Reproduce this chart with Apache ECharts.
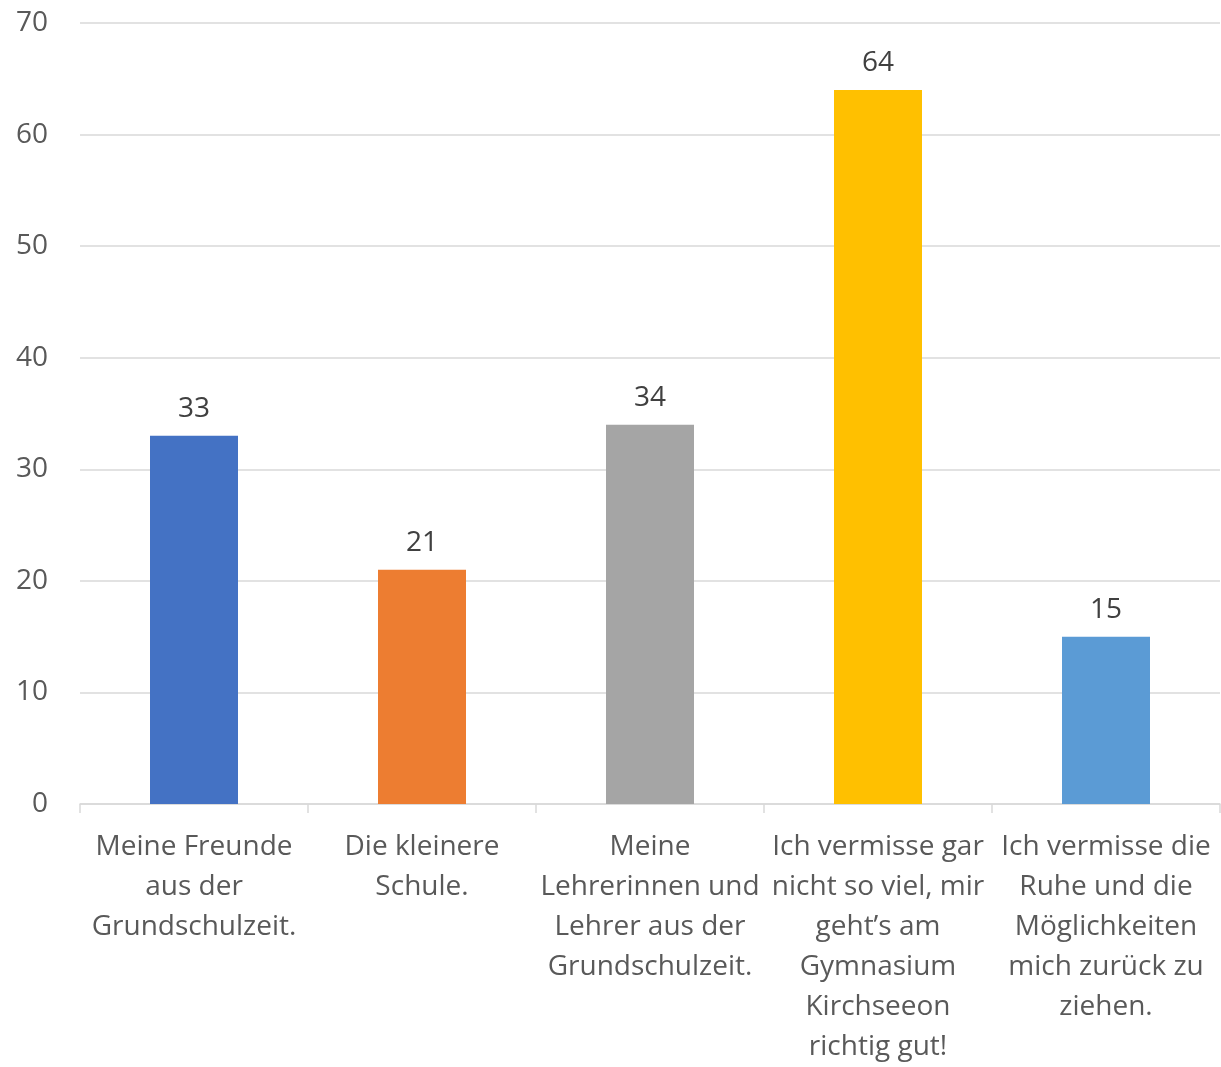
<!DOCTYPE html>
<html>
<head>
<meta charset="utf-8">
<script src="https://cdn.jsdelivr.net/npm/echarts@6/dist/echarts.min.js"></script>
<style>
html,body{margin:0;padding:0;background:#fff;}
#chart{width:1221px;height:1067px;}
</style>
</head>
<body>
<div id="chart"></div>
<script>
const categories = [
  "Meine Freunde\naus der\nGrundschulzeit.",
  "Die kleinere\nSchule.",
  "Meine\nLehrerinnen und\nLehrer aus der\nGrundschulzeit.",
  "Ich vermisse gar\nnicht so viel, mir\ngeht’s am\nGymnasium\nKirchseeon\nrichtig gut!",
  "Ich vermisse die\nRuhe und die\nMöglichkeiten\nmich zurück zu\nziehen."
];
const values = [33, 21, 34, 64, 15];
const barColors = ["#4472C4", "#ED7D31", "#A5A5A5", "#FFC000", "#5B9BD5"];
const yTicks = { min: 0, max: 70, interval: 10 };

const chart = echarts.init(document.getElementById('chart'), null, {renderer: 'canvas'});
const font = "'Open Sans', 'Noto Sans', sans-serif";
chart.setOption({
  animation: false,
  backgroundColor: '#ffffff',
  grid: { left: 80, right: 1, top: 23, bottom: 257, containLabel: false },
  xAxis: {
    type: 'category',
    data: categories,
    axisLine: { show: true, lineStyle: { color: '#d9d9d9', width: 1.5 } },
    axisTick: { show: true, length: 9, alignWithLabel: false, lineStyle: { color: '#d9d9d9', width: 1.5 } },
    axisLabel: {
      interval: 0, color: '#595959', fontFamily: font, fontSize: 28,
      lineHeight: 40, margin: 23, align: 'center'
    }
  },
  yAxis: {
    type: 'value',
    min: yTicks.min, max: yTicks.max, interval: yTicks.interval,
    axisLine: { show: false },
    axisTick: { show: false },
    splitLine: { lineStyle: { color: '#d9d9d9', width: 1.5 } },
    axisLabel: { color: '#595959', fontFamily: font, fontSize: 28, margin: 32 }
  },
  series: [{
    type: 'bar',
    data: values.map((v, i) => ({ value: v, itemStyle: { color: barColors[i] } })),
    barWidth: 88,
    label: {
      show: true, position: 'top', distance: 13,
      color: '#404040', fontFamily: font, fontSize: 28
    }
  }]
});
</script>
</body>
</html>
